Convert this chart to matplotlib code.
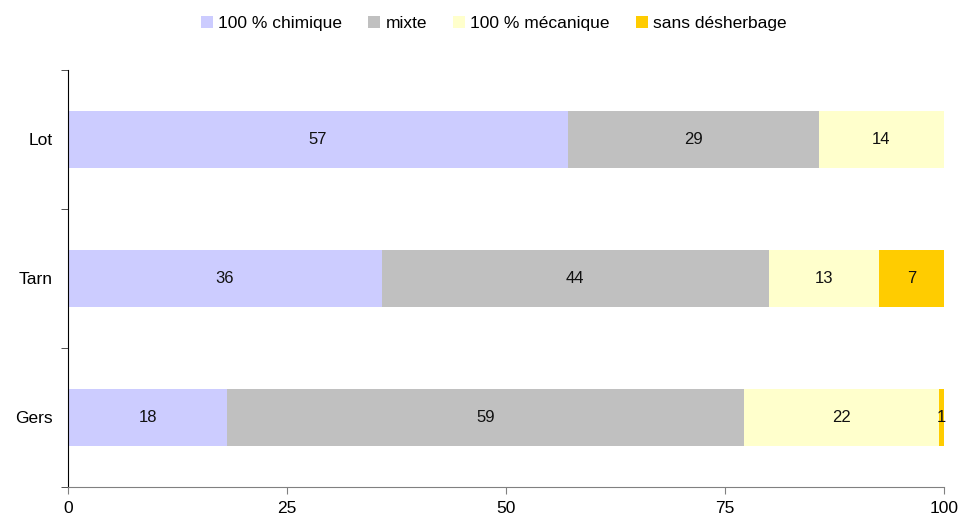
import matplotlib.pyplot as plt
import numpy as np

plt.rcParams['font.family'] = ['Liberation Sans', 'DejaVu Sans']

# Données (%) ; les étiquettes affichent les valeurs arrondies
departements = ["Gers", "Tarn", "Lot"]
series = ["100 % chimique", "mixte", "100 % mécanique", "sans désherbage"]
chimique = [18.2, 35.8, 57.1]
mixte = [59.0, 44.2, 28.6]
mecanique = [22.2, 12.6, 14.3]
sans = [0.6, 7.4, 0]
couleurs = ["#CCCCFF", "#C0C0C0", "#FFFFCC", "#FFCC00"]

valeurs = [chimique, mixte, mecanique, sans]

fig = plt.figure(figsize=(9.59, 5.20), dpi=100)
ax = fig.add_axes([0.0709, 0.0635, 0.9135, 0.8019])

y = np.arange(len(departements))
gauche = np.zeros(len(departements))
for nom, vals, c in zip(series, valeurs, couleurs):
    vals = np.array(vals, dtype=float)
    bars = ax.barh(y, vals, left=gauche, height=0.41, color=c, label=nom)
    for b, v in zip(bars, vals):
        if v > 0:
            ax.text(b.get_x() + b.get_width() / 2, b.get_y() + b.get_height() / 2,
                    f"{v:.0f}", ha="center", va="center", fontsize=12, color="#111111")
    gauche += vals

ax.set_xlim(0, 100)
ax.set_ylim(-0.5, 2.5)
ax.set_xticks([0, 25, 50, 75, 100])
ax.set_yticks(y)
ax.set_yticklabels(departements)
ax.set_yticks([-0.5, 0.5, 1.5, 2.5], minor=True)
ax.tick_params(axis="y", which="major", length=0, pad=11, labelsize=12.5)
ax.tick_params(axis="y", which="minor", length=5, direction="out", color="#333333")
ax.tick_params(axis="x", length=5, direction="out", color="#808080", labelsize=12.5, pad=5)

for s in ["top", "right"]:
    ax.spines[s].set_visible(False)
ax.spines["bottom"].set_color("#808080")
ax.spines["left"].set_color("#000000")

fig.legend(loc="center", bbox_to_anchor=(0.515, 0.955), ncol=4, frameon=False,
           handlelength=0.7, handleheight=0.7, handletextpad=0.3,
           columnspacing=1.5, fontsize=12.5)

fig.savefig("out.png", dpi=100)
